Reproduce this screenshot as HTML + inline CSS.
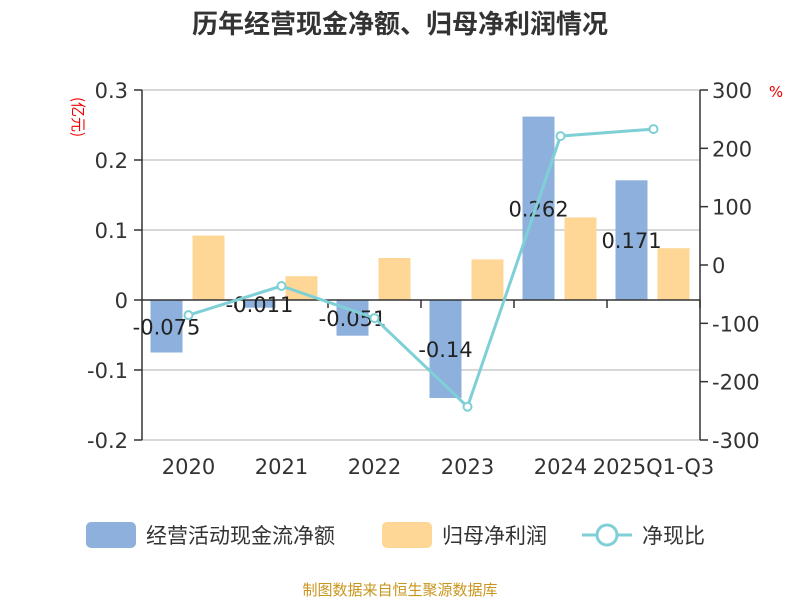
<!DOCTYPE html>
<html><head><meta charset="utf-8"><style>
body{margin:0;background:#fff;font-family:"DejaVu Sans","Noto Sans CJK SC",sans-serif}
</style></head><body>
<svg id="c" width="800" height="600" xmlns="http://www.w3.org/2000/svg" font-family="DejaVu Sans, Noto Sans CJK SC, sans-serif">
<text x="400" y="33" text-anchor="middle" font-size="26" font-weight="bold" fill="#333" font-family="Noto Sans CJK SC, sans-serif">历年经营现金净额、归母净利润情况</text>
<text transform="translate(73,117) rotate(90)" text-anchor="middle" font-size="15" fill="#e00" font-family="Noto Sans CJK SC, sans-serif">(亿元)</text>
<text x="776" y="97" text-anchor="middle" font-size="15" fill="#e00">%</text>
<g id="grid"></g><g id="bars"></g><g id="axes"></g><g id="labels"></g><g id="line"></g>
<g font-family="Noto Sans CJK SC, sans-serif">
<rect x="86" y="522" width="50" height="26" rx="5" fill="#8eb0dc"/>
<text x="146" y="543" font-size="21" fill="#333">经营活动现金流净额</text>
<rect x="382" y="522" width="50" height="26" rx="5" fill="#fed796"/>
<text x="442" y="543" font-size="21" fill="#333">归母净利润</text>
<line x1="582" y1="535" x2="632" y2="535" stroke="#7fd0d6" stroke-width="3"/>
<circle cx="607" cy="535" r="10" fill="#fff" stroke="#7fd0d6" stroke-width="3"/>
<text x="642" y="543" font-size="21" fill="#333">净现比</text>
</g>
<text x="400" y="595" text-anchor="middle" font-size="15" fill="#c8961e" font-family="Noto Sans CJK SC, sans-serif">制图数据来自恒生聚源数据库</text>
</svg>
<script>
const categories=["2020","2021","2022","2023","2024","2025Q1-Q3"];
const cashflow=[-0.075,-0.011,-0.051,-0.14,0.262,0.171];
const profit=[0.092,0.034,0.060,0.058,0.118,0.074];
const ratio=[-86,-36,-91,-243,221,233];
const leftTicks=[0.3,0.2,0.1,0,-0.1,-0.2];
const rightTicks=[300,200,100,0,-100,-200,-300];
const NS="http://www.w3.org/2000/svg";
const X0=142,X1=700,YT=90,YB=440;
const yL=v=>YT+(0.3-v)/0.5*(YB-YT);
const yR=v=>YT+(300-v)/600*(YB-YT);
const bw=(X1-X0)/categories.length;
const xc=i=>X0+bw*(i+0.5);
function mk(tag,attrs,parent,txt){const e=document.createElementNS(NS,tag);for(const k in attrs)e.setAttribute(k,attrs[k]);if(txt!==undefined)e.textContent=txt;document.getElementById(parent).appendChild(e);return e;}
leftTicks.forEach(t=>{
 if(t!==0){const g=mk('line',{x1:X0,x2:X1,y1:yL(t),y2:yL(t),stroke:'#ccc','stroke-width':1.5},'grid');
 
 }
 const l=mk('text',{x:X0-14,y:yL(t)+8,'text-anchor':'end','font-size':21,fill:'#333'},'axes',t===0?'0':String(t));
 
 
 mk('line',{x1:X0-8,x2:X0,y1:yL(t),y2:yL(t),stroke:'#333','stroke-width':1.5},'axes');
});
rightTicks.forEach(t=>{
 const l=mk('text',{x:X1+12,y:yR(t)+8,'font-size':21,fill:'#333'},'axes',String(t));
 
 
 mk('line',{x1:X1,x2:X1+8,y1:yR(t),y2:yR(t),stroke:'#333','stroke-width':1.5},'axes');
});
mk('line',{x1:X0,x2:X0,y1:YT,y2:YB,stroke:'#333','stroke-width':1.5},'axes');
mk('line',{x1:X1,x2:X1,y1:YT,y2:YB,stroke:'#333','stroke-width':1.5},'axes');
mk('line',{x1:X0,x2:X1,y1:yL(0),y2:yL(0),stroke:'#333','stroke-width':1.5},'axes');
categories.forEach((c,i)=>{
 mk('line',{x1:X0+bw*(i+1),x2:X0+bw*(i+1),y1:yL(0),y2:yL(0)+8,stroke:'#333','stroke-width':1.5},'axes');
 const t=mk('text',{x:xc(i),y:474,'text-anchor':'middle','font-size':21,fill:'#333'},'axes',c);
 
 
 const v=cashflow[i];
 const b=mk('rect',{x:xc(i)-38,width:32,y:Math.min(yL(v),yL(0)),height:Math.abs(yL(v)-yL(0)),fill:'#8eb0dc'},'bars');
 
 
 const p=profit[i];
 const b2=mk('rect',{x:xc(i)+4,width:32,y:Math.min(yL(p),yL(0)),height:Math.abs(yL(p)-yL(0)),fill:'#fed796'},'bars');
 
 
 const lb=mk('text',{x:xc(i)-22,y:(yL(v)+yL(0))/2+8,'text-anchor':'middle','font-size':21,fill:'#222'},'labels',String(v));
 
 
});
const pts=ratio.map((r,i)=>xc(i)+','+yR(r)).join(' ');
const pl=mk('polyline',{points:pts,fill:'none',stroke:'#7fd0d6','stroke-width':3},'line');


ratio.forEach((r,i)=>{
 const c=mk('circle',{cx:xc(i),cy:yR(r),r:4,fill:'#fff',stroke:'#7fd0d6','stroke-width':2},'line');
 
 
});
</script>
</body></html>
